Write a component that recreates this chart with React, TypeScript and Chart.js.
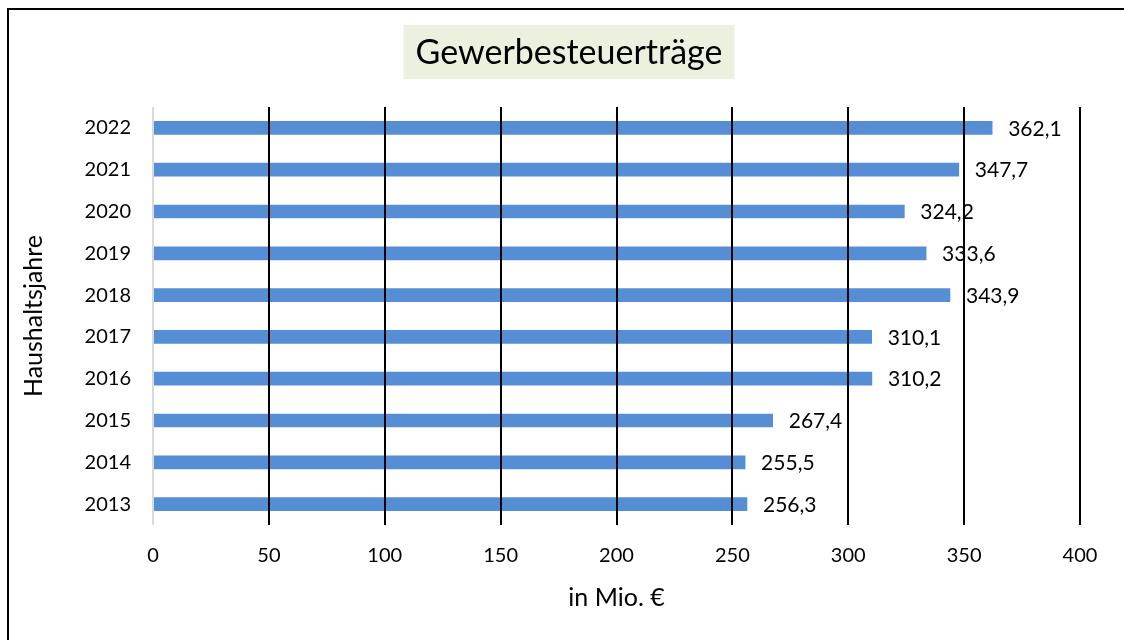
import { useEffect, useRef } from 'react';
import { Chart, registerables } from 'chart.js';

Chart.register(...registerables);

const years = ['2013', '2014', '2015', '2016', '2017', '2018', '2019', '2020', '2021', '2022'];
const revenue = [256.3, 255.5, 267.4, 310.2, 310.1, 343.9, 333.6, 324.2, 347.7, 362.1];
const xMin = 0;
const xMax = 400;
const xStep = 50;
const chartTitle = 'Gewerbesteuerträge';
const xAxisTitle = 'in Mio. €';
const yAxisTitle = 'Haushaltsjahre';

const FONT = 'Lato';
const fmt = (v: number) => v.toFixed(1).replace('.', ',');

const titlePlugin = {
  id: 'boxTitle',
  beforeDraw(chart: any) {
    const ctx = chart.ctx;
    ctx.save();
    ctx.font = `34px ${FONT}`;
    const w = ctx.measureText(chartTitle).width;
    const cx = 569;
    const cy = 52;
    ctx.fillStyle = '#EBF1DE';
    ctx.fillRect(cx - w / 2 - 12, cy - 27, w + 24, 54);
    ctx.fillStyle = '#000';
    ctx.textAlign = 'center';
    ctx.textBaseline = 'middle';
    ctx.fillText(chartTitle, cx, cy + 1);
    ctx.restore();
  },
};

const valueLabelPlugin = {
  id: 'valueLabels',
  afterDatasetsDraw(chart: any) {
    const ctx = chart.ctx;
    const meta = chart.getDatasetMeta(0);
    ctx.save();
    ctx.font = `21px ${FONT}`;
    ctx.fillStyle = '#000';
    ctx.textAlign = 'left';
    ctx.textBaseline = 'middle';
    meta.data.forEach((bar: any, i: number) => {
      ctx.fillText(fmt(revenue[i]), bar.x + 16, bar.y + 1);
    });
    ctx.restore();
  },
};

export default function App() {
  const canvasRef = useRef<HTMLCanvasElement | null>(null);

  useEffect(() => {
    document.documentElement.style.overflow = 'hidden';
    document.body.style.overflow = 'hidden';
    const canvas = canvasRef.current;
    if (!canvas) return;
    Chart.defaults.font.family = FONT;
    Chart.defaults.color = '#000';
    const chart = new Chart(canvas, {
      type: 'bar',
      data: {
        labels: years,
        datasets: [
          {
            data: revenue,
            backgroundColor: '#558ED5',
            borderWidth: 0,
            barThickness: 13,
          },
        ],
      },
      options: {
        indexAxis: 'y',
        animation: false,
        responsive: false,
        maintainAspectRatio: false,
        layout: { padding: { top: 107, left: 15, right: 44, bottom: 23 } },
        plugins: {
          legend: { display: false },
          title: { display: false },
          tooltip: { enabled: false },
        },
        scales: {
          x: {
            min: xMin,
            max: xMax,
            ticks: { stepSize: xStep, padding: 19, font: { size: 20 }, color: '#000' },
            grid: {
              z: 1,
              drawTicks: false,
              lineWidth: 2,
              color: (c: any) => (c.tick && c.tick.value === 0 ? '#D9D9D9' : '#000'),
            },
            border: { display: false },
            title: { display: true, text: xAxisTitle, font: { size: 25 }, color: '#000' },
            afterFit: (s: any) => {
              s.height = 92;
            },
          },
          y: {
            reverse: true,
            ticks: { padding: 22, font: { size: 20 }, color: '#000' },
            grid: { display: false, drawTicks: false },
            border: { display: false },
            title: { display: true, text: yAxisTitle, font: { size: 25 }, color: '#000' },
            afterFit: (s: any) => {
              s.width = 138;
            },
          },
        },
      },
      plugins: [titlePlugin, valueLabelPlugin],
    });
    document.fonts && document.fonts.ready.then(() => chart.update());
    return () => chart.destroy();
  }, []);

  return (
    <div style={{ position: 'fixed', left: 0, top: 0, width: 1124, height: 640, overflow: 'hidden', background: '#fff' }}>
      <div
        style={{
          position: 'absolute',
          left: 7,
          top: 8,
          width: 1140,
          height: 660,
          border: '2px solid #000',
          boxSizing: 'border-box',
        }}
      />
      <canvas ref={canvasRef} width={1124} height={640} style={{ position: 'absolute', left: 0, top: 0, width: 1124, height: 640 }} />
    </div>
  );
}
